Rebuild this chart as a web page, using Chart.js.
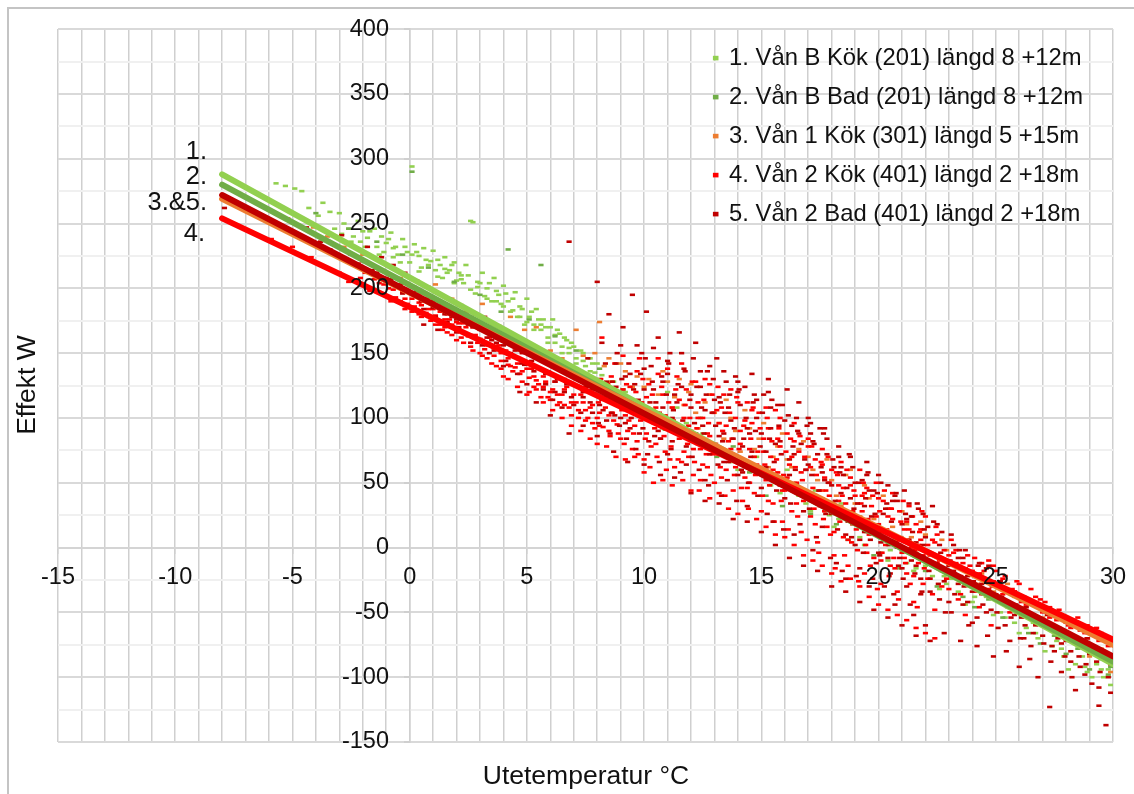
<!DOCTYPE html>
<html>
<head>
<meta charset="utf-8">
<script src="https://cdn.jsdelivr.net/npm/chart.js@4"></script>
<style>
html, body { margin: 0; padding: 0; background: #fff; overflow: hidden; }
#frame { position: absolute; left: 7px; top: 7px; width: 1127px; height: 787px; border-left: 2px solid #c4c4c4; border-top: 2px solid #c4c4c4; box-sizing: border-box; }
#wrap { position: absolute; left: 0; top: 0; width: 1134px; height: 794px; }
</style>
</head>
<body>
<div id="frame"></div>
<div id="wrap"><canvas id="myChart" width="1134" height="794"></canvas></div>
<script>
// serienamn
var seriesNames = [
    '1. Vån B Kök (201) längd 8 +12m',
    '2. Vån B Bad (201) längd 8 +12m',
    '3. Vån 1 Kök (301) längd 5 +15m',
    '4. Vån 2 Kök (401) längd 2 +18m',
    '5. Vån 2 Bad (401) längd 2 +18m'
];
var seriesColors = ['#92D050', '#70AD47', '#ED7D31', '#FF0000', '#C00000'];
var xTickLabels = [-15, -10, -5, 0, 5, 10, 15, 20, 25, 30];
var yTickLabels = [-150, -100, -50, 0, 50, 100, 150, 200, 250, 300, 350, 400];
var lineLabels = ['1.', '2.', '3.&5.', '4.'];

// trendlinjer, [x, y] i ändpunkterna
var trend1 = [[-8, 288], [30, -90]];
var trend2 = [[-8, 280], [30, -88]];
var trend3 = [[-8, 269], [30, -75]];
var trend4 = [[-8, 254], [30, -71]];
var trend5 = [[-8, 272], [30, -84]];

// mätpunkter, [utetemp, effekt]
var points1 = [[-5.7,281],[-5.3,279],[-4.9,277],[-4.6,275],[-4.3,262],[-3.9,256],[-3.7,266],[-3.4,259],[-3,258],[-2.8,250],[-2.6,246],[-2.2,252],[-2,244],[-1.8,239],[-1.5,246],[-1.2,240],[-1,235],[-.8,243],[-.6,232],[-.3,238],[-.1,228],[.1,294],[.2,234],[.4,225],[.6,231],[.9,221],[1,229],[1.3,218],[1.5,224],[1.7,214],[1.9,220],[2.2,210],[2.4,218],[2.6,252],[2.7,251],[2.9,205],[3.1,212],[3.3,200],[3.6,208],[3.8,195],[4,202],[4.2,190],[4.5,197],[4.7,186],[5,192],[5.2,182],[5.5,176],[5.8,170],[6.1,176],[6.4,165],[6.7,160],[7,155],[7.4,150],[7.8,142],[8.2,133],[8.7,128],[9.2,120],[9.8,112],[10.4,106],[11,120],[11.8,96],[12.5,88],[13.2,72],[14,60],[14.8,70],[15.4,48],[16.1,60],[16.6,40],[17.3,44],[17.9,25],[18.4,34],[18.9,18],[19.5,12],[20.1,-4],[20.7,6],[21.2,-12],[21.8,-8],[22.3,-22],[22.9,-28],[23.4,-34],[24,-42],[24.6,-38],[25.2,-50],[25.8,-58],[26.3,-62],[26.8,-70],[27.4,-76],[27.9,-84],[28.4,-90],[28.9,-96],[29.3,-90],[29.6,-100],[29.9,-106]];
var points1b = [[-3.2,246],[-2.9,242],[-2.4,240],[-2.1,236],[-1.7,244],[-1.4,232],[-1.1,228],[-.9,238],[-.7,224],[-.5,226],[-.2,232],[0,220],[.3,228],[.5,216],[.7,222],[1.1,214],[1.2,222],[1.4,208],[1.6,212],[1.8,218],[2,206],[2.1,212],[2.3,204],[2.5,210],[2.8,196],[3,204],[3.2,194],[3.4,204],[3.5,190],[3.7,198],[3.9,188],[4.1,196],[4.3,182],[4.4,192],[4.6,178],[4.8,184],[4.9,172],[5.1,178],[5.3,172],[5.4,184],[5.6,168],[5.7,176],[5.9,162],[6,170],[6.2,158],[6.3,168],[6.5,155],[6.6,162],[6.8,150],[6.9,158],[7.1,146],[7.3,152],[7.5,140],[7.7,146],[7.9,135],[8,142],[8.4,126],[8.9,120],[9.4,110],[10,106],[10.8,92],[11.4,108],[12.1,84],[13,80],[13.7,66],[15,56],[15.8,42],[16.9,34],[17.6,38],[18.1,16],[18.7,24],[19.2,8],[19.8,14],[20.4,-10],[21,-2],[21.5,-18],[22,-14],[22.6,-32],[23.1,-24],[23.7,-44],[24.3,-34],[24.9,-52],[25.5,-46],[26,-66],[26.6,-58],[27.1,-80],[27.6,-72],[28.1,-94],[28.7,-84],[29.1,-100],[29.8,-94]];
var points1c = [[-2.5,236],[-1.9,232],[-1.3,226],[-.7,231],[-.4,220],[.1,226],[.4,213],[.8,218],[1.2,209],[1.5,215],[1.9,204],[2.2,207],[2.6,199],[2.9,201],[3.3,192],[3.7,190],[4,186],[4.4,183],[4.7,178],[5,174],[5.3,168],[5.6,172],[5.9,158],[6.2,164],[6.5,150],[6.8,154],[7.1,142],[7.4,144],[7.7,136],[8.1,130],[17.1,28],[18.3,22],[19.4,2],[20.5,-2],[21.6,-16],[22.8,-22],[24.1,-38],[25.4,-54],[26.7,-66],[27.8,-78],[28.8,-92],[29.5,-94]];

var points2 = [[.1,290],[-4,258],[-2.6,246],[-1.4,236],[-.3,226],[.8,216],[1.9,205],[3,195],[3.9,182],[4.2,230],[5.1,176],[5.6,218],[6.2,163],[7.1,152],[8.1,138],[9.1,122],[10.2,104],[10.9,91],[11.6,88],[12.4,100],[13.1,70],[13.8,78],[14.5,58],[15.2,40],[15.9,32],[16.5,48],[17.1,26],[17.6,38],[18.2,18],[18.7,6],[19.2,20],[19.8,-6],[20.4,2],[20.9,-16],[21.4,-4],[22,-18],[22.5,-30],[23.1,-22],[23.6,-38],[24.1,-46],[24.7,-40],[25.3,-54],[25.9,-50],[26.4,-66],[26.9,-74],[27.5,-68],[28,-82],[28.5,-78],[29,-94],[29.5,-86],[29.8,-98],[29.9,-92]];

var points3 = [[-5.2,254],[-4.1,247],[-3.5,240],[-2.8,232],[-2,226],[-1.3,214],[-.4,208],[.4,196],[1.1,203],[1.8,192],[2.4,182],[3.1,188],[3.6,172],[4.3,178],[4.9,168],[5.4,170],[6,152],[6.5,146],[7.1,168],[7.4,148],[7.9,150],[8.1,174],[8.3,140],[8.6,128],[9,142],[9.3,112],[9.7,132],[10,124],[10.4,96],[10.8,136],[11.2,108],[11.5,130],[11.9,120],[12.3,92],[12.6,112],[13,104],[13.4,84],[13.7,100],[14.1,74],[14.5,92],[14.9,84],[15.3,62],[15.7,78],[16.1,68],[16.4,50],[16.8,82],[17.2,60],[17.6,44],[18,52],[18.4,32],[18.8,60],[19.2,24],[19.6,38],[20,14],[20.4,30],[20.8,6],[21.2,18],[21.6,-4],[22,10],[22.5,-14],[22.9,-2],[23.4,-22],[23.9,-30],[24.4,-20],[24.9,-34],[25.5,-28],[26.1,-46],[26.6,-52],[27.2,-60],[27.8,-66],[28.4,-74],[29,-84],[29.5,-78],[29.9,-96]];
var points3b = [[8.5,146],[9.2,136],[9.5,124],[10.2,130],[10.6,118],[11,128],[11.3,116],[11.7,110],[12,126],[12.2,104],[12.8,118],[13.2,96],[13.5,114],[13.9,90],[14.3,106],[14.7,76],[15.1,96],[15.5,70],[15.9,88],[16.3,62],[16.6,76],[17,70],[17.4,52],[17.8,68],[18.2,40],[18.6,56],[19,34],[19.4,48],[19.8,22],[20.2,40],[20.6,16],[21,28],[21.4,8],[21.8,20],[22.2,-6],[22.7,6],[23.2,-12],[23.7,-18],[24.2,-28],[24.7,-26],[25.2,-40],[25.8,-38],[26.4,-50],[27,-54],[27.6,-62],[28.2,-70],[28.8,-76],[29.3,-82]];

var points4 = [[-5.9,238],[-5,232],[-4.2,224],[-3.6,216],[-3,212],[-2.6,205],[-2.1,208],[-1.7,198],[-1.3,204],[-1,194],[-.7,199],[-.4,190],[-.2,184],[0,196],[.2,186],[.4,180],[.6,190],[.8,178],[1,184],[1.1,172],[1.3,182],[1.5,170],[1.7,176],[1.8,164],[2,174],[2.2,162],[2.4,170],[2.6,155],[2.8,164],[3,150],[3.1,160],[3.3,146],[3.5,156],[3.7,140],[3.9,150],[4,132],[4.2,146],[4.4,136],[4.6,142],[4.8,128],[5,138],[5.1,120],[5.3,132],[5.5,126],[5.7,132],[5.9,116],[6.1,122],[6.3,110],[6.5,118],[6.7,124],[6.9,102],[7.1,112],[7.3,118],[7.5,98],[7.7,108],[7.9,92],[8.1,104],[8.2,162],[8.3,116],[8.5,90],[8.6,132],[8.7,98],[8.9,110],[9,84],[9.1,148],[9.2,102],[9.4,124],[9.5,76],[9.6,94],[9.7,136],[9.9,112],[10,68],[10.1,88],[10.2,126],[10.4,100],[10.5,80],[10.6,146],[10.8,118],[10.9,74],[11,92],[11.2,108],[11.3,62],[11.4,132],[11.5,84],[11.7,100],[11.8,122],[11.9,70],[12,90],[12.1,56],[12.3,112],[12.4,76],[12.5,100],[12.6,130],[12.7,62],[12.8,86],[12.9,118],[13,50],[13.1,72],[13.2,96],[13.3,108],[13.5,60],[13.6,82],[13.7,122],[13.8,44],[13.9,100],[14,68],[14.1,90],[14.2,36],[14.3,54],[14.4,112],[14.5,76],[14.6,96],[14.7,42],[14.8,64],[14.9,104],[15,28],[15.1,84],[15.2,52],[15.3,92],[15.4,70],[15.5,34],[15.6,106],[15.7,58],[15.8,78],[15.9,20],[16,44],[16.1,88],[16.2,64],[16.3,28],[16.4,96],[16.5,50],[16.6,74],[16.7,12],[16.8,36],[16.9,60],[17,84],[17.1,24],[17.2,46],[17.3,68],[17.4,4],[17.5,32],[17.6,76],[17.7,54],[17.8,16],[17.9,40],[18,60],[18.1,-6],[18.2,26],[18.3,48],[18.4,66],[18.5,8],[18.6,34],[18.7,-14],[18.8,54],[18.9,18],[19,40],[19.1,-2],[19.2,60],[19.3,28],[19.4,-20],[19.5,46],[19.6,10],[19.7,32],[19.8,-8],[19.9,50],[20,18],[20.1,-28],[20.2,36],[20.3,2],[20.4,24],[20.5,-14],[20.6,42],[20.7,8],[20.8,-34],[20.9,28],[21,-4],[21.1,14],[21.2,-20],[21.3,32],[21.4,0],[21.5,-42],[21.6,18],[21.7,-12],[21.8,6],[21.9,-28],[22,24],[22.2,-6],[22.4,-48],[22.5,10],[22.7,-18],[22.8,-2],[23,-32],[23.1,6],[23.3,-12],[23.5,-22],[23.7,-52],[23.8,-6],[24,-18],[24.2,-34],[24.4,-12],[24.6,-24],[24.8,-60],[25,-18],[25.2,-30],[25.4,-22],[25.7,-44],[25.9,-26],[26.2,-38],[26.5,-32],[26.8,-46],[27.1,-42],[27.4,-52],[27.7,-48],[28,-58],[28.3,-56],[28.6,-64],[28.9,-60],[29.2,-68],[29.5,-66],[29.8,-76]];
var points4b = [[-1.9,212],[-1.5,207],[-1.1,203],[-.9,200],[-.6,193],[-.5,201],[-.3,197],[-.1,188],[.1,192],[.3,183],[.5,187],[.7,181],[.9,189],[1.2,186],[1.4,168],[1.6,180],[1.9,178],[2.1,168],[2.3,173],[2.5,163],[2.7,170],[2.9,158],[3.2,153],[3.4,162],[3.6,148],[3.8,156],[4.1,152],[4.3,140],[4.5,147],[4.7,134],[4.9,143],[5.2,138],[5.4,122],[5.6,116],[5.8,128],[6,120],[6.2,128],[6.4,112],[6.6,122],[6.8,108],[7,118],[7.2,106],[7.4,112],[7.6,100],[7.8,110],[8,100],[8.05,112],[8.15,130],[8.25,93],[8.35,108],[8.45,126],[8.55,86],[8.65,104],[8.75,142],[8.85,95],[8.95,118],[9.05,106],[9.15,80],[9.25,126],[9.35,98],[9.45,112],[9.55,88],[9.65,120],[9.75,72],[9.85,98],[9.95,130],[10.05,84],[10.15,108],[10.25,62],[10.35,118],[10.45,92],[10.55,70],[10.65,104],[10.75,124],[10.85,86],[10.95,60],[11.05,112],[11.15,78],[11.25,98],[11.35,122],[11.45,68],[11.55,90],[11.65,52],[11.75,110],[11.85,80],[11.95,100],[12.05,128],[12.15,66],[12.25,92],[12.35,44],[12.45,84],[12.55,114],[12.65,72],[12.75,96],[12.85,56],[12.95,104],[13.05,80],[13.15,124],[13.25,62],[13.35,90],[13.45,40],[13.55,70],[13.65,104],[13.75,84],[13.85,56],[13.95,116],[14.05,76],[14.15,46],[14.25,94],[14.35,66],[14.45,30],[14.55,84],[14.65,108],[14.75,56],[14.85,74],[14.95,92],[15.05,40],[15.15,64],[15.25,100],[15.35,48],[15.45,82],[15.55,20],[15.65,68],[15.75,92],[15.85,36],[15.95,56],[16.05,74],[16.15,14],[16.25,84],[16.35,44],[16.45,62],[16.55,24],[16.65,86],[16.75,52],[16.85,70],[16.95,6],[17.05,40],[17.15,78],[17.25,30],[17.35,56],[17.45,-4],[17.55,66],[17.65,22],[17.75,44],[17.85,70],[17.95,10],[18.05,34],[18.15,-16],[18.25,56],[18.35,20],[18.45,40],[18.55,-6],[18.65,60],[18.75,26],[18.85,4],[18.95,44],[19.05,14],[19.15,-26],[19.25,34],[19.35,50],[19.45,2],[19.55,22],[19.65,-14],[19.75,40],[19.85,10],[19.95,-32],[20.05,28],[20.15,-4],[20.25,44],[20.35,14],[20.45,-22],[20.55,30],[20.65,-8],[20.75,4],[20.85,-40],[20.95,20],[21.05,36],[21.15,-12],[21.25,6],[21.35,-28],[21.45,24],[21.55,-2],[21.65,-46],[21.75,12],[21.85,28],[21.95,-16],[22.1,2],[22.3,-36],[22.45,16],[22.6,-10],[22.9,-24],[23.2,-4],[23.4,-40],[23.6,-12],[23.9,-26],[24.1,-8],[24.3,-46],[24.5,-18],[24.7,-32],[24.9,-14],[25.1,-38],[25.3,-24],[25.6,-50],[25.8,-34],[26,-28],[26.3,-44],[26.7,-38],[27,-50],[27.3,-46],[27.6,-56],[27.9,-54],[28.2,-62],[28.5,-60],[28.8,-66],[29.1,-64],[29.4,-72],[29.7,-70]];
var points4c = [[.4,189],[.8,184],[1.1,179],[1.5,176],[1.8,172],[2.1,173],[2.4,165],[2.7,162],[3,161],[3.3,156],[3.6,154],[3.9,144],[4.2,141],[4.5,139],[4.8,136],[5.1,131],[5.4,129],[5.7,124],[6,114],[6.3,118],[6.6,110],[6.9,112],[7.2,100],[7.5,106],[7.8,96],[8.1,94],[8.3,124],[8.5,102],[8.7,116],[8.9,88],[9.1,122],[9.3,90],[9.5,114],[9.7,82],[9.9,106],[10.1,116],[10.3,78],[10.5,108],[10.7,84],[10.9,102],[11.1,68],[11.3,92],[11.5,114],[11.7,74],[11.9,94],[12.1,76],[12.3,100],[12.5,64],[12.7,88],[12.9,72],[13.1,106],[13.3,54],[13.5,94],[13.7,76],[13.9,62],[14.1,80],[14.3,98],[14.5,50],[14.7,70],[14.9,58],[15.1,74],[15.3,36],[15.5,60],[15.7,84],[15.9,44],[16.1,54],[16.3,70],[16.5,34],[16.7,58],[16.9,42],[17.1,62],[17.3,18],[17.5,44],[17.7,28],[17.9,50],[18.1,12],[18.3,36],[18.5,46],[18.7,6],[18.9,28],[19.1,18],[19.3,40],[19.5,-4],[19.7,16],[19.9,24],[20.1,-10],[20.3,12],[20.5,30],[20.7,-16],[20.9,6],[21.1,-8],[21.3,14],[21.5,-22],[21.7,2],[21.9,-6],[22.1,-24],[22.3,6],[22.5,-12],[22.7,-30],[22.9,-10],[23.1,-20],[23.3,-2],[23.5,-36],[23.7,-16],[23.9,-14],[24.1,-28],[24.3,-20],[24.5,-36],[24.7,-10],[24.9,-26],[25.3,-36],[25.7,-32],[26.1,-42],[26.5,-44],[26.9,-40],[27.3,-54],[27.7,-52],[28.1,-60],[28.5,-54],[28.9,-70],[29.3,-62]];
var points4d = [[-.8,190],[-.2,192],[.1,182],[.5,178],[.9,175],[1.3,172],[1.6,166],[2,160],[2.3,158],[2.7,152],[3.1,148],[3.5,142],[3.9,138],[4.2,130],[4.6,124],[5,118],[5.3,124],[5.7,112],[6.1,106],[6.5,100],[6.9,94],[7.3,90],[7.7,84],[8,80],[8.4,78],[8.8,70],[9.2,68],[9.6,70],[10,58],[10.4,50],[10.8,52],[11.2,48],[11.6,66],[12,44],[12.4,52],[12.8,38],[13.2,42],[13.6,30],[14,26],[14.4,46],[14.8,22],[15.2,16],[15.6,10],[16,8],[16.4,2],[16.8,-6],[17.2,-10],[17.6,-14],[18,-20],[18.4,-26],[18.8,-24],[19.2,-30],[19.6,-38],[20,-44],[20.4,-48],[20.8,-52],[21.2,-56],[21.6,-62],[22,-66],[22.4,-70],[9.8,146],[10.6,134],[11,138],[11.6,142],[12.2,128],[12.8,126],[13.4,118],[14,112],[14.6,106],[15.2,108],[15.8,100],[16.4,82],[17,78],[17.6,64],[18.2,58],[18.8,48],[19.4,42],[20,38],[20.6,22],[21.2,20],[21.8,14],[22.4,4],[23,-6],[23.6,-16]];

var points5 = [[-7.9,262],[-4.4,247],[-3.8,236],[-3.4,230],[-2.9,241],[-2.5,226],[-2.2,219],[-1.8,232],[-1.6,214],[-1.2,224],[-1,208],[-.7,218],[-.4,203],[-.2,212],[.1,196],[.3,206],[.5,190],[.8,201],[1,185],[1.2,196],[1.5,180],[1.7,192],[2,176],[2.2,187],[2.5,172],[2.8,180],[3,168],[3.2,178],[3.5,160],[3.8,171],[4,156],[4.2,166],[4.5,152],[4.7,160],[4.9,141],[5.1,154],[5.4,146],[5.6,150],[5.8,134],[6,142],[6.2,128],[6.4,138],[6.6,120],[6.8,236],[7,126],[7.2,132],[7.4,116],[7.6,146],[7.8,122],[8,205],[8.1,110],[8.2,158],[8.4,128],[8.5,180],[8.6,104],[8.8,142],[9,118],[9.1,170],[9.2,96],[9.4,134],[9.5,195],[9.6,108],[9.7,156],[9.8,88],[10,122],[10.1,182],[10.2,98],[10.3,140],[10.5,112],[10.6,162],[10.7,84],[10.8,128],[11,72],[11.1,150],[11.2,100],[11.3,118],[11.5,166],[11.6,88],[11.7,138],[11.8,64],[12,108],[12.2,158],[12.3,80],[12.4,124],[12.5,94],[12.6,52],[12.7,136],[12.9,104],[13,74],[13.1,146],[13.2,116],[13.3,40],[13.4,88],[13.5,128],[13.6,66],[13.7,98],[13.9,132],[14,56],[14.1,110],[14.2,78],[14.3,124],[14.4,32],[14.5,88],[14.6,134],[14.7,62],[14.8,100],[15,46],[15.1,118],[15.2,74],[15.3,130],[15.4,92],[15.5,20],[15.6,56],[15.7,110],[15.8,82],[16,38],[16.1,122],[16.2,68],[16.3,94],[16.4,10],[16.5,48],[16.6,112],[16.7,80],[16.8,28],[16.9,60],[17,100],[17.1,88],[17.2,-2],[17.3,38],[17.4,72],[17.5,92],[17.6,16],[17.7,52],[17.8,84],[18,26],[18.1,62],[18.2,-12],[18.3,78],[18.4,42],[18.5,56],[18.6,-24],[18.7,20],[18.8,70],[19,2],[19.1,34],[19.2,-16],[19.3,52],[19.4,12],[19.5,66],[19.6,-30],[19.7,24],[19.8,44],[19.9,-12],[20,56],[20.1,4],[20.2,-38],[20.3,30],[20.4,48],[20.5,-20],[20.6,10],[20.7,-44],[20.8,36],[20.9,-8],[21,18],[21.1,44],[21.2,-30],[21.3,6],[21.4,24],[21.5,-52],[21.6,-14],[21.7,30],[21.8,-36],[21.9,2],[22,-60],[22.1,16],[22.2,-24],[22.3,32],[22.4,-6],[22.6,-40],[22.7,12],[22.8,-66],[23,-14],[23.1,-50],[23.2,2],[23.4,-28],[23.5,-72],[23.6,-8],[23.8,-42],[24,-58],[24.1,-20],[24.2,-76],[24.4,-36],[24.6,-50],[24.7,-14],[24.9,-84],[25.1,-62],[25.2,-26],[25.4,-44],[25.6,-72],[25.8,-34],[26,-92],[26.1,-54],[26.3,-46],[26.5,-76],[26.7,-60],[26.8,-100],[27,-68],[27.2,-52],[27.3,-123],[27.5,-80],[27.7,-62],[27.8,-96],[28,-72],[28.2,-88],[28.4,-110],[28.6,-76],[28.8,-98],[28.9,-70],[29.1,-105],[29.3,-88],[29.4,-122],[29.5,-80],[29.7,-137],[29.8,-100],[29.9,-90],[29.9,-112]];
var points5b = [[-2,221],[-1.4,212],[-.8,207],[-.3,196],[.2,201],[.6,184],[.9,193],[1.1,178],[1.4,188],[1.6,174],[1.9,184],[2.1,170],[2.4,180],[2.6,164],[2.9,174],[3.1,156],[3.4,168],[3.6,152],[3.9,162],[4.1,144],[4.4,158],[4.6,134],[4.8,150],[5,126],[5.2,144],[5.5,138],[5.7,122],[5.9,136],[6.1,114],[6.3,130],[6.5,108],[6.7,126],[6.9,116],[7.1,136],[7.3,104],[7.5,124],[7.7,112],[7.9,130],[8.05,96],[8.15,122],[8.25,106],[8.35,142],[8.45,114],[8.55,88],[8.65,128],[8.75,102],[8.85,150],[8.95,94],[9.05,130],[9.15,110],[9.25,84],[9.35,142],[9.45,100],[9.55,122],[9.65,76],[9.75,114],[9.85,134],[9.95,92],[10.05,146],[10.15,72],[10.25,112],[10.35,128],[10.45,86],[10.55,104],[10.65,66],[10.75,132],[10.85,96],[10.95,118],[11.05,142],[11.15,76],[11.25,106],[11.35,88],[11.45,126],[11.55,58],[11.65,98],[11.75,136],[11.85,84],[11.95,114],[12.05,70],[12.15,96],[12.25,124],[12.35,60],[12.45,108],[12.55,88],[12.65,118],[12.75,48],[12.85,76],[12.95,130],[13.05,94],[13.15,64],[13.25,112],[13.35,82],[13.45,104],[13.55,52],[13.65,118],[13.75,72],[13.85,92],[13.95,36],[14.05,122],[14.15,60],[14.25,84],[14.35,100],[14.45,50],[14.55,70],[14.65,112],[14.75,90],[14.85,40],[14.95,78],[15.05,104],[15.15,58],[15.25,26],[15.35,84],[15.45,114],[15.55,66],[15.65,44],[15.75,94],[15.85,72],[15.95,14],[16.05,52],[16.15,102],[16.25,34],[16.35,78],[16.45,60],[16.55,90],[16.65,18],[16.75,44],[16.85,68],[16.95,94],[17.05,30],[17.15,56],[17.25,80],[17.35,8],[17.45,44],[17.55,62],[17.65,88],[17.75,26],[17.85,50],[17.95,-8],[18.05,68],[18.15,36],[18.25,14],[18.35,58],[18.45,-18],[18.55,28],[18.65,46],[18.75,72],[18.85,8],[18.95,30],[19.05,-22],[19.15,50],[19.25,18],[19.35,-4],[19.45,38],[19.55,58],[19.65,6],[19.75,-24],[19.85,26],[19.95,42],[20.05,-6],[20.15,12],[20.25,-30],[20.35,34],[20.45,2],[20.55,20],[20.65,-36],[20.75,42],[20.85,-14],[20.95,8],[21.05,-24],[21.15,26],[21.25,-2],[21.35,-44],[21.45,12],[21.55,-20],[21.65,34],[21.75,-6],[21.85,-34],[21.95,14],[22.15,-18],[22.35,20],[22.55,-28],[22.65,-4],[22.85,-50],[23.05,-10],[23.25,-36],[23.45,-2],[23.65,-30],[23.85,-60],[24.05,-26],[24.25,-14],[24.45,-44],[24.65,-68],[24.85,-30],[25.05,-50],[25.25,-38],[25.45,-80],[25.65,-54],[25.85,-44],[26.05,-70],[26.25,-60],[26.45,-86],[26.75,-54],[27.05,-74],[27.35,-88],[27.65,-70],[27.95,-84],[28.25,-100],[28.55,-84],[28.85,-90],[29.15,-78],[29.45,-96],[29.75,-86]];
var points5c = [[.3,198],[.7,192],[1,190],[1.3,184],[1.8,178],[2.3,176],[2.7,170],[3.3,162],[3.7,158],[4.3,150],[4.8,142],[5.3,136],[5.8,126],[6.2,120],[6.6,130],[7,110],[7.4,120],[7.8,104],[8.2,114],[8.4,98],[8.6,118],[8.8,124],[9,100],[9.2,132],[9.4,92],[9.6,126],[9.8,104],[10,138],[10.2,82],[10.4,122],[10.6,90],[10.8,108],[11,134],[11.2,82],[11.4,112],[11.6,124],[11.8,78],[12,118],[12.2,88],[12.4,136],[12.6,106],[12.8,72],[13,114],[13.2,86],[13.4,66],[13.6,108],[13.8,84],[14,120],[14.2,58],[14.4,92],[14.6,74],[14.8,114],[15,88],[15.2,62],[15.4,108],[15.6,80],[15.8,48],[16,98],[16.2,56],[16.4,72],[16.6,88],[16.8,44],[17,64],[17.2,82],[17.4,36],[17.6,58],[17.8,72],[18,48],[18.2,28],[18.4,62],[18.6,10],[18.8,38],[19,50],[19.2,6],[19.4,32],[19.6,44],[19.8,14],[20,-4],[20.2,26],[20.4,-8],[20.6,36],[20.8,0],[21,-16],[21.2,22],[21.4,-10],[21.6,4],[21.8,-24],[22,8],[22.2,-34],[22.4,-12],[22.6,2],[22.8,-26],[23,-42],[23.2,-18],[23.4,-8],[23.6,-44],[23.8,-22],[24,-34],[24.2,-54],[24.4,-28],[24.6,-16],[24.8,-48],[25,-36],[25.4,-60],[25.8,-52],[26.2,-70],[26.6,-66],[27,-58],[27.4,-76],[27.8,-74],[28.2,-80],[28.6,-92],[29,-82],[29.4,-108]];
var points5d = [[.6,172],[1.2,168],[2,166],[2.6,158],[3.4,150],[4,140],[4.7,120],[5.4,112],[6,102],[6.8,88],[7.4,94],[8,86],[8.7,74],[9.3,66],[10,64],[10.7,56],[11.3,54],[12,42],[12.6,36],[13.2,34],[13.8,22],[14.4,20],[15,12],[15.6,2],[16.2,-8],[16.8,-14],[17.4,-18],[18,-30],[18.6,-34],[19.2,-42],[19.8,-48],[20.4,-54],[21,-60],[21.6,-68],[22.2,-72],[9,156],[9.9,150],[10.4,154],[11,144],[11.6,150],[12.1,146],[12.8,140],[13.4,136],[14,128],[14.7,118],[15.3,120],[15.9,110],[16.5,100],[17.1,96],[17.7,92],[18.3,70],[18.9,62],[19.5,56],[20.1,50],[20.7,40],[21.3,34],[21.9,26],[22.5,18],[23.1,10],[23.7,-2],[24.3,-12]];

var seriesPoints = [
    points1.concat(points1b, points1c),
    points2,
    points3.concat(points3b),
    points4.concat(points4b, points4c, points4d),
    points5.concat(points5b, points5c, points5d)
];
var seriesTrends = [trend1, trend2, trend3, trend4, trend5];

function toXY(list) {
    return list.map(function (p) { return { x: p[0], y: p[1] }; });
}

var datasets = [];
seriesPoints.forEach(function (list, i) {
    // punkterna som korta streck
    datasets.push({
        label: seriesNames[i],
        data: toXY(list),
        showLine: false,
        pointStyle: 'line',
        pointRadius: 2.6,
        pointBorderWidth: 2.6,
        pointBorderColor: seriesColors[i],
        backgroundColor: seriesColors[i],
        borderColor: seriesColors[i],
        borderWidth: 0,
        order: 20 - i
    });
});
seriesTrends.forEach(function (list, i) {
    datasets.push({
        label: 'trend ' + (i + 1),
        data: toXY(list),
        showLine: true,
        pointRadius: 0,
        borderWidth: 6,
        borderCapStyle: 'round',
        borderColor: seriesColors[i],
        order: 10 - i
    });
});

// axeltitlar och etiketter vid linjerna
var textPlugin = {
    id: 'textPlugin',
    afterLayout: function (chart) {
        var l = chart.legend;
        l.left = 699; l.right = 1100; l.top = 31; l.bottom = 400;
    },
    beforeDraw: function (chart) {
        // y-etiketterna sitter till vänster om axeln
        chart.scales.y.getLabelItems(chart.chartArea).forEach(function (item) {
            item.options.translation[0] = 389;
        });
    },
    afterDatasetsDraw: function (chart) {
        var c = chart.ctx;
        c.save();
        c.font = '25.5px "Liberation Sans"';
        c.fillStyle = '#111';
        c.textBaseline = 'middle';
        c.textAlign = 'right';
        var ys = [152, 177, 203, 234];
        lineLabels.forEach(function (t, i) {
            c.fillText(t, i === 3 ? 205 : 207, ys[i]);
        });
        c.font = '26.5px "Liberation Sans"';
        c.textAlign = 'center';
        c.fillText('Utetemperatur °C', 586, 777);
        c.translate(28, 385);
        c.rotate(-Math.PI / 2);
        c.fillText('Effekt W', 0, 0);
        c.restore();
    }
};

var ctx = document.getElementById('myChart').getContext('2d');
var chart = new Chart(ctx, {
    type: 'scatter',
    data: { datasets: datasets },
    plugins: [textPlugin],
    options: {
        responsive: false,
        animation: false,
        layout: { padding: { left: 58, right: 21, top: 29, bottom: 52 } },
        plugins: {
            tooltip: { enabled: false },
            legend: {
                position: 'chartArea',
                align: 'start',
                labels: {
                    boxWidth: 3,
                    boxHeight: 2,
                    padding: 15.2,
                    color: '#111',
                    font: { family: '"Liberation Sans"', size: 23.8 },
                    filter: function (item) { return item.datasetIndex < 5; },
                    sort: function (a, b) { return a.datasetIndex - b.datasetIndex; }
                }
            }
        },
        scales: {
            x: {
                type: 'linear',
                min: -15,
                max: 30,
                position: { y: 0 },
                afterFit: function (s) { s.height = 0; s.paddingRight = 0; s.paddingLeft = 0; },
                border: { color: '#d4d4d4', width: 2 },
                grid: {
                    color: '#cfcfcf',
                    lineWidth: 1.5,
                    tickLength: 5,
                    tickColor: function (c) { return xTickLabels.indexOf(c.tick.value) >= 0 ? '#cfcfcf' : 'rgba(0,0,0,0)'; }
                },
                ticks: {
                    stepSize: 1,
                    autoSkip: false,
                    maxRotation: 0,
                    padding: 11,
                    z: 1,
                    color: '#111',
                    font: { family: '"Liberation Sans"', size: 23.5 },
                    callback: function (v) { return xTickLabels.indexOf(v) >= 0 ? String(v) : ''; }
                }
            },
            y: {
                type: 'linear',
                min: -150,
                max: 400,
                position: { x: 0 },
                afterFit: function (s) { s.width = 0; },
                border: { color: '#cfcfcf', width: 1.5 },
                grid: {
                    color: function (c) { return yTickLabels.indexOf(c.tick.value) >= 0 ? '#d9d9d9' : '#f0f0f0'; },
                    lineWidth: 2,
                    tickLength: 5,
                    tickColor: function (c) { return yTickLabels.indexOf(c.tick.value) >= 0 ? '#cfcfcf' : 'rgba(0,0,0,0)'; }
                },
                ticks: {
                    stepSize: 25,
                    autoSkip: false,
                    padding: 15,
                    z: 1,
                    color: '#111',
                    font: { family: '"Liberation Sans"', size: 23.5 },
                    callback: function (v) { return yTickLabels.indexOf(v) >= 0 ? String(v) : ''; }
                }
            }
        }
    }
});
</script>
</body>
</html>
